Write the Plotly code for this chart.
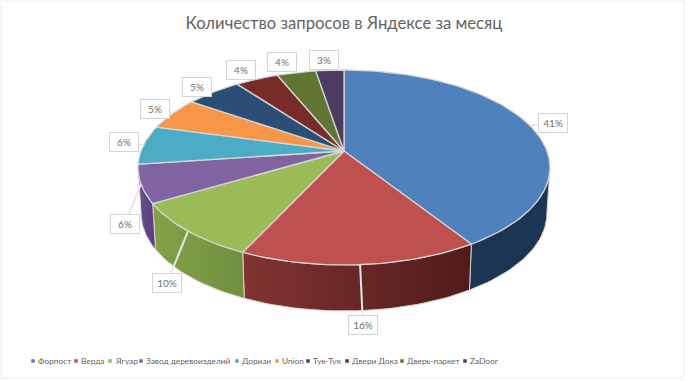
import math
import plotly.graph_objects as go

# ---- data ----
TITLE = "Количество запросов в Яндексе за месяц"
categories = ["Форпост", "Верда", "Ягуар", "Завод деревоизделий", "Дориан",
              "Union", "Тук-Тук", "Двери Дока", "Дверь-паркет", "ZaDoor"]
shares = [41.0, 16.0, 9.6, 6.3, 6.4, 5.4, 5.2, 4.0, 3.6, 2.6]

# ---- styles ----
top_colors = ["#4f81bd", "#c0504d", "#9bbb59", "#8064a2", "#4bacc6",
              "#f79646", "#2c4d75", "#772c2a", "#5f7530", "#4d3b62"]
side_gradients = {0: ("#1b3654", "#1b3049"), 1: ("#823331", "#4f1c1b"),
                  2: ("#84a347", "#6f8f3e"), 3: ("#6a4f8e", "#54407a")}
legend_marker_x = [33, 76, 110, 141, 237, 277, 308, 347, 402, 465]
legend_y = 361
label_pos = [(553, 123), (363, 325), (167, 283), (125, 224), (124, 142),
             (155, 109), (197, 87), (241, 70), (282, 62), (324, 60)]
CX, CY, A, B, K, DEPTH, SHRINK = 344, 151, 203, 94.7, 0.169, 46, 0.985
EDGE = "#d6d6d6"
TEXT = "#636363"


def project(theta_deg, lower=False):
    """Perspective projection of a rim point; angle clockwise from 12 o'clock."""
    t = math.radians(theta_deg)
    u, v = math.sin(t), -math.cos(t)
    d = 1 - K * v
    sx, sy = A * u / d, B * v / d
    if lower:
        return CX + SHRINK * sx, CY + sy + DEPTH
    return CX + sx, CY + sy


def arc(a0, a1, lower=False):
    n = max(2, int(abs(a1 - a0) / 1.5) + 2)
    pts = [project(a0 + (a1 - a0) * i / (n - 1), lower) for i in range(n)]
    return [p[0] for p in pts], [p[1] for p in pts]


total = sum(shares)
edges = [0.0]
for s in shares:
    edges.append(edges[-1] + s / total * 360)

SIDE_A = math.degrees(math.acos(-K))
SIDE_B = 360 - SIDE_A

fig = go.Figure()

# side walls (visible front part only)
for i, name in enumerate(categories):
    a0, a1 = max(edges[i], SIDE_A), min(edges[i + 1], SIDE_B)
    if a0 >= a1:
        continue
    x1, y1 = arc(a0, a1)
    x2, y2 = arc(a1, a0, lower=True)
    c_a, c_b = side_gradients[i]
    fig.add_trace(go.Scatter(
        x=x1 + x2 + x1[:1], y=y1 + y2 + y1[:1], mode="lines", fill="toself",
        line=dict(color="#e0cfcf", width=1),
        fillgradient=dict(type="horizontal", colorscale=[[0, c_a], [1, c_b]]) if i != 0 else None,
        fillcolor=c_a if i == 0 else None,
        hoverinfo="skip", showlegend=False))

# top face
for i, name in enumerate(categories):
    x, y = arc(edges[i], edges[i + 1])
    fig.add_trace(go.Scatter(
        x=[CX] + x + [CX], y=[CY] + y + [CY], mode="lines", fill="toself",
        fillcolor=top_colors[i], line=dict(color=EDGE, width=1.3),
        name=name, text=f"{name}: {shares[i]}%", hoverinfo="text", showlegend=False))

# leader lines
lx, ly = [], []
for i in range(len(categories)):
    px, py = project((edges[i] + edges[i + 1]) / 2)
    lx += [px, label_pos[i][0], None]
    ly += [py, label_pos[i][1], None]
fig.add_trace(go.Scatter(x=lx, y=ly, mode="lines", line=dict(color="#e6e6e6", width=2),
                         hoverinfo="skip", showlegend=False))

# legend markers
fig.add_trace(go.Scatter(
    x=legend_marker_x, y=[legend_y] * len(categories), mode="markers",
    marker=dict(symbol="square", size=3.5, color=top_colors),
    hoverinfo="skip", showlegend=False))

annotations = []
for i, s in enumerate(shares):
    annotations.append(dict(
        x=label_pos[i][0], y=label_pos[i][1], xref="x", yref="y", showarrow=False,
        text=f"{round(s)}%", font=dict(family="Lato, Noto Sans", size=10, color="#707070"),
        bgcolor="white", bordercolor="#d4d4d4", borderwidth=1, borderpad=2,
        width=24, height=14))
for i, name in enumerate(categories):
    annotations.append(dict(
        x=legend_marker_x[i] + 4, y=legend_y, xref="x", yref="y", showarrow=False,
        xanchor="left", text=name, xshift=0, borderpad=0,
        font=dict(family="Lato, Noto Sans", size=8.3, color=TEXT)))

fig.update_layout(
    width=688, height=381, margin=dict(l=0, r=0, t=0, b=0),
    paper_bgcolor="white", plot_bgcolor="white",
    xaxis=dict(range=[0, 688], visible=False, fixedrange=True),
    yaxis=dict(range=[381, 0], visible=False, fixedrange=True),
    title=dict(text=TITLE, x=0.5, xanchor="center", y=1 - 23 / 381, yanchor="middle",
               font=dict(family="Lato, Noto Sans", size=16.7, color=TEXT)),
    shapes=[dict(type="rect", xref="x", yref="y", x0=1, y0=1, x1=684, y1=378,
                 line=dict(color="#ececec", width=1), layer="below")],
    annotations=annotations, showlegend=False)

fig.write_html("out.html", post_script="document.body.style.margin='0';",
               config={"displayModeBar": False})
